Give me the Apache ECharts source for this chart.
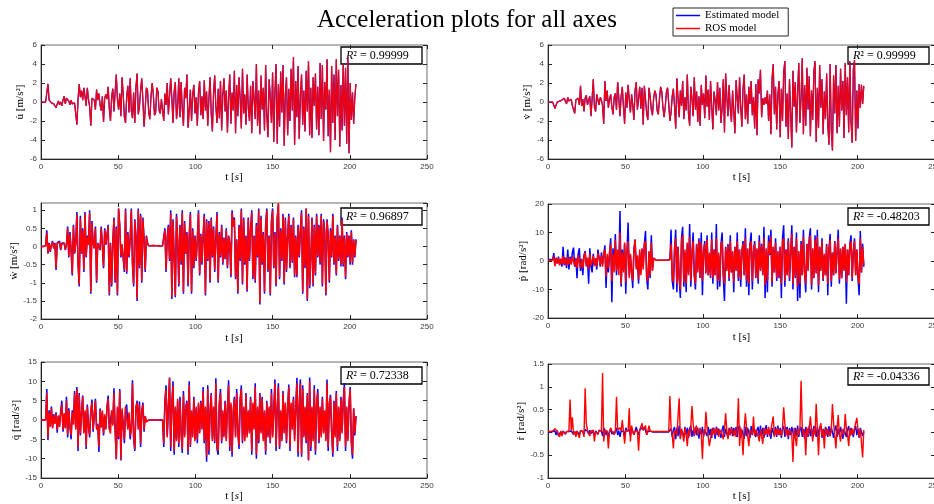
<!DOCTYPE html>
<html>
<head>
<meta charset="utf-8">
<title>Acceleration plots for all axes</title>
<script src="https://cdn.jsdelivr.net/npm/echarts@6/dist/echarts.min.js"></script>
<style>
  html, body { margin: 0; padding: 0; background: #fff; }
  #chart { width: 934px; height: 504px; }
</style>
</head>
<body>
<div id="chart"></div>
<script>
// Sampling step of every signal below, in seconds (sample i is at t = i * SAMPLE_STEP).
const SAMPLE_STEP = 0.75;

// Axis ranges: [min, max, tick step]
const timeRange = [0, 250, 50];
const uRange = [-6, 6, 2];
const vRange = [-6, 6, 2];
const wRange = [-2, 1.2, 0.5];
const pRange = [-20, 20, 10];
const qRange = [-15, 15, 5];
const rRange = [-1, 1.5, 0.5];

const seriesNames = ['Estimated model', 'ROS model'];
const r2Values = ['0.99999', '0.99999', '0.96897', '-0.48203', '0.72338', '-0.04336'];

// u-dot [m/s^2] (both models agree to R^2 = 0.99999)
const uDotEst = [
  0,0,0,0,0,0,1.9,0.2,0.1,-0.1,0,-0.2,-0.3,-0.6,-0.2,0.1,-0.3,0,-0.4,0.2,
  0.6,-0.2,0.4,0.5,0.1,-0.3,0.2,-0.2,-0.3,-0.1,-0.2,-2.4,0.3,1.9,0.5,1.2,0.2,1.5,0.6,-0.4,
  1.5,0.3,-0.5,-2.5,0.4,0.6,0.2,-0.8,1.3,0.2,0.9,-0.3,-0.9,0.6,-2.1,0.4,0.8,0.3,1.6,-0.7,
  -2.0,0.5,1.4,-1.0,-1.2,2.9,0.3,-0.8,0.9,-1.5,2.6,0.8,-1.6,-2.2,0.6,1.7,-1.1,2.5,-0.9,-1.7,
  1.0,-2.2,1.6,3.0,-1.3,-0.5,1.2,2.5,0.2,-2.6,-0.7,1.5,1.2,-1.1,-1.8,0.6,2.0,0.8,-1.4,-1.1,
  1.5,1.1,-0.9,-1.2,0.3,0.1,-2.0,0.9,-0.3,2.0,-1.3,-1.5,2.5,0.4,-2.2,1.1,2.1,-1.8,-0.6,2.5,
  -1.6,2.1,-0.7,-2.5,1.5,0.4,2.9,-2.7,-0.9,1.3,-2.0,0.8,1.8,-1.2,0.5,-2.5,1.0,2.2,-1.4,0.6,
  -1.8,2.3,-0.9,1.1,-2.5,0.4,2.6,-1.2,-3.1,0.9,2.8,-0.5,-2.2,1.4,-1.7,2.2,-3.0,0.7,2.5,-1.0,
  1.2,-3.2,0.5,2.9,-2.3,1.0,-0.9,3.3,-3.3,1.8,-1.5,2.6,0.3,-2.8,3.5,-1.2,0.8,-2.4,2.9,-0.6,
  -2.0,1.7,-3.3,2.2,0.4,-1.8,4.0,-2.5,1.2,-3.4,2.8,-0.8,1.5,-3.0,3.9,-1.4,-3.7,2.4,0.6,-2.2,
  3.1,-4.2,1.0,4.0,-4.4,1.9,-2.6,3.2,-1.1,3.9,-4.6,0.8,2.6,-3.5,1.4,-2.0,3.5,-0.9,4.7,-4.5,
  2.2,-1.6,3.8,-3.9,0.7,2.9,-2.4,1.2,-3.1,3.3,-1.0,4.3,-3.5,1.5,-3.8,2.6,-0.4,3.0,-2.9,1.6,
  -3.5,4.1,-1.8,3.9,-4.1,2.1,-0.8,4.5,-3.6,1.3,-5.3,3.8,-2.2,2.9,-4.0,4.5,-1.5,3.4,-4.7,1.8,
  -3.0,4.0,-2.5,3.6,-4.4,4.7,-5.4,2.0,-1.9,1.0,-2.3,0.5,1.9
];
const uDotRos = uDotEst;

// v-dot [m/s^2] (both models agree to R^2 = 0.99999)
const vDotEst = [
  0,0,0,0,0,0,-0.7,-0.3,0,-0.2,0.1,-0.1,0.2,0.1,0.4,0.3,-0.2,0.5,0.1,0.2,
  0.3,-0.4,-0.6,-1.2,0.2,0.1,0.4,-0.3,1.7,-0.4,0.3,-1.0,0.4,0.7,-0.3,0.2,0.6,-1.5,0.3,2.4,
  -0.5,-1.0,0.8,0.2,-0.3,0.5,0.2,-0.4,-2.3,2.2,0.1,1.2,-0.6,0.3,0.8,-0.5,-1.3,0.5,0.9,-0.8,
  2.1,0.4,-1.5,0.6,1.6,-0.5,-2.3,1.0,-0.6,1.8,0.2,-1.1,0.8,-0.3,-1.9,1.2,2.1,-0.8,0.4,1.6,
  -0.7,1.5,-2.4,1.7,0.3,-1.2,-1.9,1.5,0.6,-0.8,-1.4,0.4,1.2,0.8,-0.9,-1.3,0.3,1.6,1.1,-0.6,
  -1.6,-0.5,1.0,1.5,-0.2,-2.0,-1.1,0.6,1.4,-0.5,-2.8,2.5,0.3,-1.6,1.2,-0.4,2.2,-1.8,0.5,-0.9,
  2.9,-1.2,-2.5,1.6,0.4,-1.5,2.6,-0.8,1.1,-2.1,0.6,-2.5,1.8,-0.3,0.9,-1.7,2.8,-0.5,1.3,-1.9,
  2.2,-0.4,-2.9,1.1,0.2,-1.4,2.1,-0.9,1.5,-2.2,-0.6,2.4,-3.2,3.0,0.6,-1.5,1.8,-0.7,-2.1,1.2,
  -1.0,-3.3,2.3,0.4,-1.2,2.6,-0.5,-2.6,1.4,2.9,-1.8,0.8,-2.3,1.6,-0.2,2.2,-1.4,0.5,-2.8,1.9,
  -3.5,2.4,0.9,3.4,-1.6,0.4,-0.3,0.5,-0.2,1.2,-2.0,0.8,-3.4,2.5,4.0,-1.3,1.6,-2.9,0.7,2.2,
  -3.7,1.4,-2.0,3.1,4.3,-2.6,0.9,-3.9,2.4,-1.1,-4.8,3.3,-0.5,2.1,-3.2,1.0,4.1,-2.2,0.6,4.6,
  -3.4,1.8,-2.5,3.6,-0.8,2.7,-3.6,1.2,-1.9,3.2,4.3,-4.2,1.5,-2.7,3.9,-0.6,2.4,-3.4,1.1,-1.8,
  3.0,-2.4,-4.5,4.0,-3.0,-5.1,2.8,-1.2,3.9,-3.3,1.7,-2.6,3.5,-0.9,2.2,-3.8,4.1,-1.4,2.6,-3.2,
  4.3,-2.1,-4.3,3.4,4.4,-4.1,1.2,-2.8,1.9,-0.6,1.8,-0.2,1.7
];
const vDotRos = vDotEst;

// w-dot [m/s^2]
const wDotEst = [
  0,0,0,0,0.02,0.45,-0.2,0.1,-0.15,0.05,0.15,-0.05,0.1,-0.65,0.1,0.05,0.15,-0.1,0.1,0.05,
  0.1,-0.1,0.05,0.55,-0.3,0.4,-0.1,-0.8,0.6,-0.2,0.1,0.95,-0.5,-1.1,0.85,-0.2,0.5,-0.7,0.95,-0.3,
  0.3,0.05,1.0,-1.3,0.7,0.1,-0.05,0.55,-1.0,0.1,0.05,-0.1,0.55,0.02,-0.6,0.5,0.05,0.02,0.6,-1.35,
  0.1,-1.1,0.1,0.8,-1.0,0.55,-1.35,1.05,0.6,-0.3,0.05,0.02,-0.7,1.05,-0.75,0.4,-0.3,0.2,1.05,-0.5,
  -1.1,0.75,0.3,-1.5,1.05,-0.6,0.9,-1.0,0.8,0.2,-0.7,0.3,0.1,0.02,0.02,0.02,0.03,0.03,0.02,0.02,
  0.02,0.02,0.02,0.01,0.01,0.02,0.02,0.5,-0.7,0.25,0.6,-0.4,1.0,-1.45,0.75,-0.3,-1.4,0.9,0.2,-1.1,
  0.6,-0.5,1.0,-1.3,0.7,-0.2,0.4,-1.1,0.3,0.95,-1.3,0.5,-0.6,0.3,-0.4,0.2,1.0,-0.8,0.35,-0.5,
  0.3,0.9,-1.35,0.75,-0.4,0.7,-1.0,0.8,-0.3,0.55,-0.7,0.2,0.95,-1.0,0.4,-0.3,0.6,-0.5,0.25,-0.35,
  0.5,-0.6,0.3,0.1,-0.85,1.0,0.6,0.8,-0.9,0.2,-1.3,0.6,-0.4,1.05,-1.05,0.8,-0.5,0.3,-1.25,0.8,
  -0.4,0.5,1.0,-0.9,0.3,-1.0,0.65,-0.3,1.05,-1.6,0.85,-0.5,0.4,-1.3,0.6,1.05,-0.7,0.3,-1.35,0.7,
  1.05,-0.6,0.4,-1.1,0.8,1.15,-0.9,0.5,-0.4,0.9,-1.05,0.8,-0.7,0.3,0.9,-0.6,0.6,-0.45,0.8,-0.85,
  0.3,-0.85,0.6,-0.3,0.5,1.0,-1.3,0.55,-0.6,1.05,-1.5,0.9,-1.15,-0.4,0.8,-1.1,0.6,-0.8,0.9,-0.3,
  0.6,-0.5,0.9,-1.1,0.75,0.45,-1.35,0.75,0.3,-1.0,0.5,-0.3,0.9,-0.5,0.3,-0.8,0.6,-0.4,0.3,-0.55,
  0.8,-0.55,0.3,-0.9,0.4,-0.3,0.3,-0.5,0.45,-0.5,0.2,-0.3,0.2
];
const wDotRos = [
  0,0,0,0,0.02,0.38,-0.18,0.08,-0.12,0.05,0.12,-0.05,0.08,-0.6,0.08,0.05,0.12,-0.08,0.08,0.05,
  0.08,-0.08,0.05,0.5,-0.27,0.35,-0.08,-0.75,0.55,-0.18,0.08,0.88,-0.45,-1.05,0.78,-0.18,0.45,-0.65,0.9,-0.27,
  0.27,0.05,0.93,-1.25,0.65,0.08,-0.05,0.5,-0.95,0.08,0.05,-0.08,0.5,0.02,-0.55,0.45,0.05,0.02,0.55,-1.3,
  0.08,-1.05,0.08,0.75,-0.95,0.5,-1.3,1.05,0.55,-0.27,0.05,0.02,-0.65,1.0,-0.7,0.36,-0.27,0.18,1.0,-0.45,
  -1.05,0.7,0.27,-1.45,1.0,-0.55,0.85,-0.95,0.75,0.18,-0.65,0.27,0.08,0.02,0.02,0.02,0.03,0.03,0.02,0.02,
  0.02,0.02,0.02,0.01,0.01,0.02,0.02,0.45,-0.65,0.22,0.55,-0.36,0.92,-1.4,0.7,-0.27,-1.35,0.83,0.18,-1.05,
  0.55,-0.45,0.93,-1.25,0.65,-0.18,0.36,-1.05,0.27,0.88,-1.25,0.45,-0.55,0.27,-0.36,0.18,0.93,-0.75,0.32,-0.45,
  0.27,0.83,-1.3,0.7,-0.36,0.65,-0.95,0.75,-0.27,0.5,-0.65,0.18,0.88,-0.95,0.36,-0.27,0.55,-0.45,0.22,-0.32,
  0.45,-0.55,0.27,0.08,-0.8,0.93,0.55,0.75,-0.85,0.18,-1.25,0.55,-0.36,1.0,-1.0,0.75,-0.45,0.27,-1.2,0.75,
  -0.36,0.45,0.93,-0.85,0.27,-0.95,0.6,-0.27,1.0,-1.55,0.8,-0.45,0.36,-1.25,0.55,1.0,-0.65,0.27,-1.3,0.65,
  1.0,-0.55,0.36,-1.05,0.75,1.2,-0.85,0.45,-0.36,0.85,-1.0,0.75,-0.65,0.27,0.85,-0.55,0.55,-0.4,0.75,-0.8,
  0.27,-0.8,0.55,-0.27,0.45,0.93,-1.25,0.5,-0.55,1.05,-1.45,0.85,-1.1,-0.36,0.75,-1.05,0.55,-0.75,0.85,-0.27,
  0.55,-0.45,0.85,-1.05,0.7,0.4,-1.3,0.7,0.27,-0.95,0.45,-0.27,0.85,-0.45,0.27,-0.75,0.55,-0.36,0.27,-0.5,
  0.75,-0.5,0.27,-0.85,0.36,-0.27,0.27,-0.45,0.4,-0.45,0.18,-0.27,0.18
];

// p-dot [rad/s^2]
const pDotEst = [
  0.5,0.5,0.5,0.5,0.5,2.8,-1.5,1.0,-0.8,1.5,-1.2,0.6,-2.0,5.0,-1.5,1.2,-2.5,4.0,-3.0,1.5,
  -1.0,3.0,4.7,-2.0,1.0,-6.0,2.5,4.5,-3.5,0.8,-5.0,2.0,3.5,-1.5,1.0,-8.0,4.5,-2.0,-4.0,2.5,
  -1.5,0.8,-3.0,4.0,1.2,-2.0,3.0,-1.0,2.0,5.5,-9.5,1.5,-4.0,2.5,8.0,-14.5,4.5,-3.0,9.5,-5.0,
  3.0,-2.5,17.5,-9.0,4.0,-3.0,6.0,-11.5,3.0,13.5,-5.0,2.0,-3.5,-9.5,4.0,7.5,-2.0,1.5,-8.0,3.0,
  -4.0,4.0,-2.0,6.0,10.5,-6.0,-10.0,3.0,-6.0,9.0,-3.0,1.0,0.3,0.3,0.3,0.3,0.3,0.3,0.3,0.3,
  0.3,0.3,0.3,0.3,0.3,0.5,11.0,-7.0,-10.0,4.0,11.0,-11.0,5.0,-6.0,-13.0,8.0,12.0,-9.0,3.0,-11.0,
  6.0,-4.0,13.0,-9.0,2.0,10.0,-5.0,-10.0,6.0,-3.0,8.0,-6.0,10.0,-12.0,3.0,7.0,-4.0,9.0,-5.0,2.0,
  -6.0,10.0,-8.0,4.0,-5.0,13.0,-10.0,2.0,-9.0,6.0,10.0,-6.0,-14.0,5.0,-3.0,6.0,-7.0,9.0,-4.0,3.0,
  -11.0,5.0,-3.0,10.0,-7.0,4.0,-9.0,3.0,7.0,-5.0,11.5,-9.0,4.0,-12.0,6.0,10.0,-10.0,3.0,7.0,-6.0,
  4.0,-8.0,9.0,-3.0,6.0,-5.0,12.0,-13.0,4.0,-11.0,9.0,2.0,11.0,-9.0,5.0,-4.0,8.0,-7.0,3.0,-6.0,
  5.0,-13.0,8.0,12.5,-9.0,4.0,-5.0,8.0,-7.0,3.0,12.5,-10.0,5.0,-6.0,10.0,-14.0,3.0,-13.0,7.0,-5.0,
  11.0,-4.0,-11.0,6.0,-3.0,8.0,11.5,-10.0,4.0,-6.0,9.0,-4.0,11.0,-11.0,5.0,-3.0,8.0,-7.0,2.0,-5.0,
  6.0,-12.0,4.0,9.5,-9.0,3.0,-5.0,7.0,-4.0,3.0,11.0,-8.0,4.0,-6.0,5.0,-3.0,6.0,-15.0,4.0,-5.0,
  6.0,9.0,-7.0,3.0,8.0,-5.0,4.0,-6.0,-12.0,10.5,-4.0,6.0,-2.0
];
const pDotRos = [
  0.3,0.3,0.3,0.3,0.3,1.5,-1.8,1.2,-0.9,1.0,-1.5,0.8,-1.2,1.8,-1.0,0.9,-1.6,1.5,-1.2,0.8,
  -1.3,1.6,2.2,-1.8,1.1,-2.5,2.0,2.2,-2.6,0.8,-2.5,1.5,3.0,-2.0,1.2,-2.8,2.5,-1.6,-2.2,1.8,
  -1.8,1.0,-2.0,2.8,1.0,-1.5,1.8,-2.0,3.0,4.0,-5.5,2.5,-2.5,3.0,6.0,-7.0,2.5,-4.0,7.5,-3.5,
  4.0,-5.0,10.0,-8.0,3.0,-4.0,6.5,-7.5,4.0,7.0,-6.0,2.5,-4.5,-7.0,3.5,7.5,-3.0,2.0,-6.5,4.0,
  -5.0,4.5,-3.0,6.0,7.0,-5.5,-7.0,3.5,-5.0,6.5,-3.5,1.0,0.3,0.3,0.3,0.3,0.3,0.3,0.3,0.3,
  0.3,0.3,0.3,0.3,0.3,0.4,6.0,-5.0,-7.5,4.5,8.0,-8.0,5.0,-6.0,-10.0,7.0,9.0,-7.5,4.0,-8.0,
  6.5,-5.0,8.5,-7.0,3.0,7.0,-5.0,-8.0,6.0,-4.0,7.0,-6.0,6.5,-7.0,4.0,6.0,-4.5,7.5,-5.0,3.0,
  -5.5,7.5,-6.0,4.0,-5.0,8.0,-7.0,3.0,-7.0,5.5,7.0,-5.0,-8.0,4.5,-3.5,5.5,-6.0,7.0,-4.0,3.5,
  -7.5,5.0,-3.5,7.0,-6.0,4.0,-6.5,3.5,6.0,-5.0,8.0,-7.0,4.5,-8.0,5.5,7.0,-7.0,3.5,6.0,-5.5,
  4.5,-6.5,7.0,-3.5,5.5,-5.0,8.0,-8.5,4.5,-7.0,7.0,2.5,8.5,-7.5,5.0,-4.0,6.5,-6.0,3.5,-5.5,
  5.0,-8.0,6.5,8.0,-7.0,4.0,-5.0,7.0,-6.0,3.5,9.5,-8.0,5.0,-5.5,8.0,-9.0,3.5,-8.0,6.0,-5.0,
  8.5,-4.5,-8.0,6.0,-3.5,7.0,9.0,-8.5,4.5,-6.0,7.5,-4.5,8.5,-8.5,5.0,-3.5,7.0,-6.5,2.5,-5.0,
  5.5,-8.0,4.0,7.5,-7.0,3.0,-5.0,6.5,-4.5,3.5,8.0,-6.5,4.5,-6.0,5.0,-3.5,6.0,-7.5,4.0,-5.0,
  5.5,7.0,-6.0,3.5,7.0,-5.0,4.0,-5.5,-8.0,8.0,-4.0,5.0,-1.5
];

// q-dot [rad/s^2]
const qDotEst = [
  0,0,0,0,0,8.0,-5.2,2.5,-1.5,3.5,-2.0,1.5,-0.8,2.0,-3.3,1.0,-1.5,2.2,5.0,-3.0,
  1.5,-2.0,6.0,-4.5,3.0,-1.5,-5.0,2.5,-1.0,7.5,-2.0,8.5,-8.0,7.0,-4.0,1.5,6.3,-3.0,2.0,-7.5,
  4.0,-1.5,-4.5,2.0,5.3,-3.0,1.0,5.5,-2.0,-1.0,-8.3,3.0,-1.5,2.0,-4.0,1.0,-2.0,3.5,6.3,-2.5,
  -3.0,2.0,-1.0,8.2,-2.0,-10.2,3.0,-5.0,8.0,-10.5,2.5,-1.0,-6.0,3.0,4.0,-2.0,1.5,-5.0,-2.0,10.3,
  -5.0,-8.0,3.0,5.0,-2.0,4.8,-7.0,2.0,4.5,-3.0,1.0,-0.5,0,0,0,0,0,0,0,0,
  0,0,0,0,0,0,-7.0,5.0,9.0,-4.0,3.0,11.0,-8.0,4.0,10.0,-9.0,3.0,-5.0,5.0,-7.0,
  6.0,-3.0,-8.5,7.5,-4.0,3.0,5.0,-9.0,10.0,-7.0,2.0,-4.0,6.0,-5.0,3.0,-6.0,4.0,-3.0,5.0,-2.0,
  8.5,-6.0,3.0,-10.8,9.0,-9.0,2.0,7.0,-5.0,3.0,-6.0,10.8,-7.5,-9.0,4.0,8.0,-6.0,2.0,-4.0,5.0,
  -5.0,3.0,10.3,-8.0,4.0,-9.5,2.0,6.0,-4.0,8.0,-3.0,-7.5,5.0,9.0,-6.0,3.0,-5.0,7.0,-4.0,2.0,
  -3.0,6.0,-9.0,4.0,-2.0,9.5,-10.0,3.0,-6.0,7.0,-3.0,6.0,-5.0,2.0,-9.0,5.0,-4.0,3.0,-6.0,8.0,
  -4.0,2.0,10.5,-8.0,3.0,9.5,-7.5,2.0,-5.0,7.5,-3.0,4.0,-6.0,3.0,9.2,-8.0,4.0,-2.0,6.0,-5.0,
  3.0,10.9,-9.5,4.0,10.5,-9.5,9.0,-4.0,3.0,-6.0,7.0,-10.5,11.0,-8.0,3.0,-5.0,9.0,-9.0,4.0,8.0,
  -6.0,3.0,-4.0,6.0,-3.0,2.0,-5.0,10.5,-8.0,4.0,6.5,-3.0,-9.5,5.0,-4.0,7.5,-8.0,3.0,-5.0,6.0,
  -3.0,5.0,9.5,-8.0,3.0,-5.0,4.0,8.5,-6.0,-10.0,3.0,-4.0,1.0
];
const qDotRos = [
  0,0,0,0,0,7.0,-4.5,2.0,-1.8,3.0,-2.2,1.2,-1.0,1.6,-2.6,1.2,-1.8,1.8,4.0,-2.5,
  1.8,-2.2,5.0,-3.8,2.5,-1.8,-4.0,2.0,-1.2,7.0,-2.5,8.0,-7.0,6.5,-3.5,1.8,6.0,-3.5,2.5,-6.8,
  3.5,-1.8,-4.0,2.5,4.5,-2.5,1.5,5.0,-2.5,-1.5,-7.0,2.5,-2.0,2.5,-3.5,1.5,-2.5,3.0,5.5,-2.0,
  -3.5,2.5,-1.5,7.0,-2.5,-10.0,3.5,-4.5,7.5,-10.3,3.0,-1.5,-5.0,3.5,3.5,-2.5,2.0,-4.0,-2.5,9.5,
  -4.5,-7.5,3.5,4.5,-2.5,4.0,-6.0,2.5,4.0,-2.5,1.0,-0.5,0,0,0,0,0,0,0,0,
  0,0,0,0,0,0,-6.0,4.5,8.0,-4.5,3.5,10.8,-7.0,4.5,9.0,-8.0,3.5,-5.5,5.5,-6.0,
  5.0,-3.5,-7.5,6.5,-4.5,3.5,4.5,-8.0,9.0,-6.5,2.5,-4.5,5.5,-5.5,3.5,-5.0,4.5,-3.5,4.5,-2.5,
  7.5,-5.5,3.5,-9.5,8.0,-8.0,2.5,6.5,-5.5,3.5,-5.5,9.5,-7.0,-8.0,4.5,7.0,-5.5,2.5,-4.5,4.5,
  -5.5,3.5,9.0,-7.0,4.5,-8.5,2.5,5.5,-4.5,7.0,-3.5,-6.5,5.5,8.0,-5.5,3.5,-5.5,6.5,-4.5,2.5,
  -3.5,5.5,-8.0,4.5,-2.5,8.5,-9.0,3.5,-5.5,6.5,-3.5,5.5,-5.5,2.5,-8.0,4.5,-4.5,3.5,-5.5,7.0,
  -4.5,2.5,9.5,-7.0,3.5,8.5,-7.0,2.5,-5.5,7.0,-3.5,4.5,-5.5,3.5,8.5,-7.0,4.5,-2.5,5.5,-5.5,
  3.5,9.5,-8.5,4.5,9.5,-9.0,8.0,-4.5,3.5,-5.5,6.5,-10.3,10.0,-7.0,3.5,-5.5,8.0,-8.0,4.5,7.0,
  -5.5,3.5,-4.5,5.5,-3.5,2.5,-5.5,9.5,-7.0,4.5,6.0,-3.5,-8.5,4.5,-4.5,7.0,-7.0,3.5,-5.5,5.5,
  -3.5,4.5,8.5,-7.0,3.5,-5.5,4.5,8.0,-5.5,-9.0,3.0,-3.5,1.0
];

// r-dot [rad/s^2]
const rDotEst = [
  0,0,0,0,0.02,0.05,0.03,-0.06,0.04,-0.08,-0.05,0.02,-0.06,0.03,0.05,-0.04,0.02,0.04,0.02,0.06,
  0.03,0.05,-0.04,0.02,-0.05,0.03,0.02,-0.06,0.04,0.03,0.02,-0.05,0.06,0.1,0.03,-0.04,0.05,-0.03,0.02,0.04,
  -0.05,0.03,0.06,-0.04,0.05,0.02,0.03,-0.08,0.1,0.05,-0.06,0.03,-0.1,0.02,0.08,-0.04,0.02,-0.05,0.03,0.1,
  -0.06,0.04,-0.1,0.03,0.07,0.02,-0.06,0.1,0.03,0.02,0.06,-0.08,0.1,0.02,-0.05,0.03,0.12,0.02,-0.06,0.05,
  0.02,0.1,0.05,0.12,0.04,-0.05,0.02,0.06,0.03,0.01,0.01,0.01,0.01,0.01,0.01,0.01,0.01,0.01,0.01,0.01,
  0.01,0.01,0.01,0.01,0.01,0.05,0.08,-0.1,0.06,0.12,-0.15,0.1,-0.08,0.15,-0.12,0.06,0.1,-0.1,0.12,-0.05,
  0.1,-0.12,0.08,0.15,-0.1,0.05,-0.08,0.12,-0.06,0.1,-0.14,0.08,-0.05,0.12,-0.1,0.06,0.1,-0.08,0.12,-0.06,
  0.08,-0.12,0.1,0.05,-0.14,0.12,-0.06,0.08,0.1,-0.12,0.06,0.15,-0.1,0.08,0.05,-0.12,0.1,-0.06,0.12,-0.08,
  0.1,-0.06,0.12,-0.1,0.08,0.15,-0.12,0.06,0.1,-0.14,0.12,-0.08,0.1,0.06,-0.12,0.14,-0.06,0.1,0.08,-0.1,
  0.06,0.12,-0.1,0.15,-0.08,0.1,-0.12,0.06,0.16,-0.1,0.08,0.12,-0.14,0.1,0.06,-0.08,0.12,-0.1,0.15,-0.06,
  0.1,-0.12,0.08,0.14,-0.1,0.06,0.12,-0.15,0.1,-0.06,0.12,0.08,-0.12,0.1,-0.08,0.15,-0.1,0.06,0.12,-0.1,
  0.08,-0.14,0.12,0.06,-0.1,0.15,-0.08,0.1,-0.12,0.14,0.06,-0.1,0.12,-0.08,0.1,0.15,-0.12,0.08,-0.1,0.12,
  0.06,-0.1,0.14,-0.08,0.12,0.1,-0.12,0.06,0.15,-0.1,0.08,-0.06,0.12,0.1,-0.14,0.08,0.12,-0.1,0.06,0.14,
  -0.08,0.1,0.12,-0.1,0.06,0.14,-0.06,0.08,-0.12,0.1,0.06,-0.08,0.02
];
const rDotRos = [
  0.02,0.02,0.02,0.02,0.03,0.05,0.08,0.04,0.02,-0.05,-0.1,0.03,-0.08,0.02,0.05,-0.03,0.02,0.06,0.02,0.72,
  0.05,0.33,-0.05,0.02,-0.1,0.03,0.02,-0.12,0.04,0.03,0.02,-0.1,0.97,0.2,0.05,0.02,-0.08,0.03,0.02,0.05,
  -0.2,0.03,0.02,-0.05,0.04,0.02,0.03,1.3,-0.2,0.05,0.02,0.03,-0.35,0.02,0.1,0.03,0.02,-0.05,0.02,0.78,
  0.05,0.02,0.1,0.03,0.27,0.02,-0.25,0.05,0.03,0.02,0.53,-0.2,0.15,0.02,-0.05,0.03,0.02,0.03,-0.4,0.05,
  0.02,0.2,0.05,0.03,0.15,-0.05,0.02,0.15,0.03,0.02,0.02,0.02,0.02,0.02,0.02,0.02,0.02,0.02,0.02,0.02,
  0.02,0.02,0.02,0.02,0.02,0.8,0.1,-0.05,-0.35,0.05,0.08,-0.06,-0.05,0.75,-0.15,0.08,-0.04,-0.2,0.1,-0.05,
  -0.3,0.06,-0.08,0.12,0.58,0.2,-0.06,0.08,0.15,-0.07,-0.05,0.1,-0.04,-0.58,0.06,-0.05,0.45,0.1,-0.08,-0.3,
  -0.15,0.08,-0.05,0.1,-0.06,0.05,0.1,-0.1,0.06,0.08,-0.05,-0.15,0.07,0.42,0.05,-0.15,0.08,-0.06,0.1,0.05,
  -0.08,0.06,-0.1,0.08,0.75,-0.3,0.1,-0.06,-0.5,0.08,0.42,0.1,-0.08,-0.3,0.06,0.1,-0.05,0.35,-0.08,0.06,
  0.1,-0.08,-0.2,0.07,0.05,-0.25,0.1,-0.06,0.08,-0.05,0.12,-0.08,0.06,0.1,0.35,-0.1,0.08,-0.06,0.1,-0.05,
  0.06,-0.08,0.1,0.55,0.2,-0.07,0.08,-0.1,0.06,0.1,-0.05,-0.65,0.1,0.06,-0.3,0.08,-0.06,0.1,1.13,0.1,
  -0.08,0.06,-0.5,0.1,-0.06,0.08,0.35,0.05,-0.2,0.1,-0.06,0.63,0.08,-0.5,0.1,0.2,-0.08,0.06,-0.35,0.1,
  -0.06,0.08,0.1,-0.08,0.06,0.62,0.2,-0.06,-0.35,0.1,0.38,-0.05,-0.2,0.08,0.1,-0.06,0.4,0.08,-0.05,-0.3,
  0.1,-0.06,0.08,-0.05,0.1,0.06,0.32,0.05,-0.1,0.08,0.06,-0.55,0.05
];

// ---------------------------------------------------------------------------
const SERIF = '"Liberation Serif", "DejaVu Serif", serif';
const SANS = '"Liberation Sans", Arial, sans-serif';
const AXIS_COLOR = '#262626';
const EST_COLOR = '#0000ff';
const ROS_COLOR = '#ff0000';

// Subplot layout, row by row (left column, right column).
const panels = [
  { est: uDotEst, ros: uDotRos, range: uRange, yName: 'u\u0307 [m/s\u00b2]', italicS: true,
    rosOpacity: 0.92, lineWidth: 1.25,
    grid: { left: 41, top: 45, width: 386, height: 114 }, yGap: 14, xGap: 13, box: [341, 47] },
  { est: vDotEst, ros: vDotRos, range: vRange, yName: 'v\u0307 [m/s\u00b2]', italicS: false,
    rosOpacity: 0.92, lineWidth: 1.25,
    grid: { left: 548, top: 45, width: 387, height: 114 }, yGap: 12, xGap: 13, box: [848, 47] },
  { est: wDotEst, ros: wDotRos, range: wRange, yName: 'w\u0307 [m/s\u00b2]', italicS: true,
    rosOpacity: 1, lineWidth: 1.5,
    grid: { left: 41, top: 203, width: 386, height: 116 }, yGap: 15, xGap: 14, box: [341, 208], hideMax: true },
  { est: pDotEst, ros: pDotRos, range: pRange, yName: 'p\u0307 [rad/s\u00b2]', italicS: false,
    rosOpacity: 1, lineWidth: 1.5,
    grid: { left: 548, top: 204, width: 387, height: 114 }, yGap: 18, xGap: 14, box: [848, 208] },
  { est: qDotEst, ros: qDotRos, range: qRange, yName: 'q\u0307 [rad/s\u00b2]', italicS: true,
    rosOpacity: 1, lineWidth: 1.5,
    grid: { left: 41, top: 362, width: 386, height: 116 }, yGap: 14, xGap: 13, box: [341, 367] },
  { est: rDotEst, ros: rDotRos, range: rRange, yName: 'r\u0307 [rad/s\u00b2]', italicS: false,
    rosOpacity: 1, lineWidth: 1.4,
    grid: { left: 548, top: 364, width: 387, height: 114 }, yGap: 18, xGap: 13, box: [848, 368] }
];

function toPoints(values) {
  return values.map((v, i) => [i * SAMPLE_STEP, v]);
}

const tickStyle = { inside: true, length: 4, lineStyle: { color: AXIS_COLOR, width: 1 } };
const labelStyle = { fontSize: 8, color: '#3a3a3a', fontFamily: SANS, margin: 4 };
const nameStyle = {
  fontFamily: SERIF, fontSize: 11, color: '#000',
  rich: { i: { fontFamily: SERIF, fontSize: 11, fontStyle: 'italic', color: '#000' } }
};

const grids = [], xAxes = [], yAxes = [], series = [], graphics = [];

panels.forEach((p, g) => {
  grids.push(Object.assign({
    show: true, borderColor: '#6a6a6a', borderWidth: 1,
    containLabel: false, outerBoundsMode: 'none'
  }, p.grid));

  xAxes.push({
    type: 'value', gridIndex: g, position: 'bottom',
    min: timeRange[0], max: timeRange[1], interval: timeRange[2],
    axisLine: { show: true, onZero: false, lineStyle: { color: AXIS_COLOR, width: 1 } },
    axisTick: tickStyle, axisLabel: labelStyle, splitLine: { show: false },
    name: p.italicS ? 't [{i|s}]' : 't [s]', nameLocation: 'middle', nameGap: p.xGap,
    nameTextStyle: nameStyle
  });
  xAxes.push({
    type: 'value', gridIndex: g, position: 'top',
    min: timeRange[0], max: timeRange[1], interval: timeRange[2],
    axisLine: { show: false, onZero: false }, axisTick: tickStyle,
    axisLabel: { show: false }, splitLine: { show: false }
  });

  yAxes.push({
    type: 'value', gridIndex: g, position: 'left',
    min: p.range[0], max: p.range[1], interval: p.range[2],
    axisLine: { show: true, onZero: false, lineStyle: { color: AXIS_COLOR, width: 1 } },
    axisTick: tickStyle,
    axisLabel: Object.assign({ showMaxLabel: !p.hideMax }, labelStyle),
    splitLine: { show: false },
    name: p.yName, nameLocation: 'middle', nameRotate: 90, nameGap: p.yGap,
    nameTextStyle: nameStyle
  });
  yAxes.push({
    type: 'value', gridIndex: g, position: 'right',
    min: p.range[0], max: p.range[1], interval: p.range[2],
    axisLine: { show: false, onZero: false }, axisTick: tickStyle,
    axisLabel: { show: false }, splitLine: { show: false }
  });

  series.push({
    name: seriesNames[0], type: 'line', xAxisIndex: 2 * g, yAxisIndex: 2 * g,
    data: toPoints(p.est), showSymbol: false, symbol: 'none', sampling: null,
    lineStyle: { color: EST_COLOR, width: p.lineWidth }, itemStyle: { color: EST_COLOR },
    z: 2, animation: false, silent: true
  });
  series.push({
    name: seriesNames[1], type: 'line', xAxisIndex: 2 * g, yAxisIndex: 2 * g,
    data: toPoints(p.ros), showSymbol: false, symbol: 'none', sampling: null,
    lineStyle: { color: ROS_COLOR, width: p.lineWidth, opacity: p.rosOpacity }, itemStyle: { color: ROS_COLOR },
    z: 3, animation: false, silent: true
  });

  // R^2 annotation box
  graphics.push({
    type: 'group', x: p.box[0], y: p.box[1], z: 100,
    children: [
      { type: 'rect', shape: { x: 0, y: 0, width: 81, height: 17 },
        style: { fill: '#fff', stroke: '#000', lineWidth: 1.3 } },
      { type: 'text', x: 5, y: 9,
        style: {
          text: '{i|R}{n|\u00b2 = ' + r2Values[g] + '}',
          verticalAlign: 'middle', align: 'left',
          rich: {
            i: { fontFamily: SERIF, fontSize: 12, fontStyle: 'italic', fill: '#000' },
            n: { fontFamily: SERIF, fontSize: 12, fill: '#000' }
          }
        } }
    ]
  });
});

const chart = echarts.init(document.getElementById('chart'), null, { renderer: 'canvas' });
chart.setOption({
  backgroundColor: '#fff',
  animation: false,
  title: {
    text: 'Acceleration plots for all axes', left: 'center', top: 3,
    textStyle: { fontFamily: SERIF, fontSize: 25, fontWeight: 'normal', color: '#000' }
  },
  legend: {
    data: seriesNames, orient: 'vertical', left: 673, top: 8,
    selectedMode: false, icon: 'rect', itemWidth: 24, itemHeight: 1.5, itemGap: 2, itemTextGap: 3,
    padding: [2, 9, 2, 3], borderColor: '#262626', borderWidth: 1, backgroundColor: '#fff',
    textStyle: { fontFamily: SERIF, fontSize: 11, color: '#000' }
  },
  grid: grids,
  xAxis: xAxes,
  yAxis: yAxes,
  series: series,
  graphic: graphics
});
</script>
</body>
</html>
